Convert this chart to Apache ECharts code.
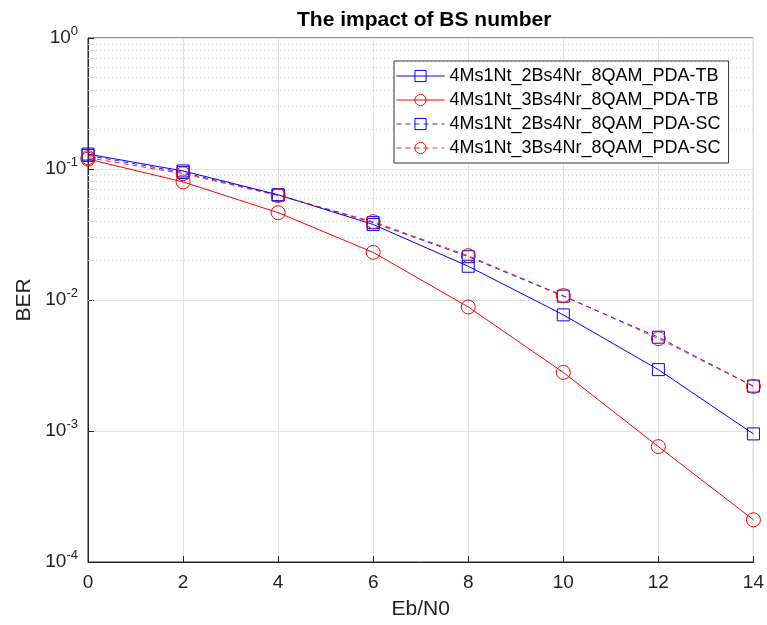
<!DOCTYPE html>
<html>
<head>
<meta charset="utf-8">
<script src="https://cdn.jsdelivr.net/npm/echarts@6/dist/echarts.min.js"></script>
<style>
  html, body { margin: 0; padding: 0; background: #fff; }
  #chart { width: 767px; height: 625px; }
</style>
</head>
<body>
<div id="chart"></div>
<script>
// Eb/N0 points
const ebn0 = [0, 2, 4, 6, 8, 10, 12, 14];
// BER values
const ber2BsTB = [0.130, 0.0966, 0.0636, 0.0377, 0.0181, 0.0077, 0.00294, 0.00095];
const ber3BsTB = [0.119, 0.0797, 0.0464, 0.0231, 0.00885, 0.0028, 0.00076, 0.00021];
const ber2BsSC = [0.127, 0.094, 0.0632, 0.0390, 0.0214, 0.0107, 0.0052, 0.0022];
const ber3BsSC = [0.122, 0.092, 0.0628, 0.0396, 0.0218, 0.0108, 0.00507, 0.00219];
const seriesNames = [
  '4Ms1Nt_2Bs4Nr_8QAM_PDA-TB',
  '4Ms1Nt_3Bs4Nr_8QAM_PDA-TB',
  '4Ms1Nt_2Bs4Nr_8QAM_PDA-SC',
  '4Ms1Nt_3Bs4Nr_8QAM_PDA-SC'
];
// minor grid lines on the log axis (2..9 x each decade)
const minorY = [];
[1e-4, 1e-3, 1e-2, 1e-1].forEach(function (d) {
  for (let k = 2; k <= 9; k++) minorY.push(+(k * d).toPrecision(3));
});

const font = 'Liberation Sans, Arial, Helvetica, sans-serif';

function pairs(ys) {
  return ebn0.map(function (x, i) { return [x, ys[i]]; });
}

function makeSeries(name, ys, color, symbol, dashed) {
  return {
    name: name,
    type: 'line',
    data: pairs(ys),
    symbol: symbol,
    symbolSize: symbol === 'rect' ? 12 : 14,
    lineStyle: { color: color, width: 1, type: dashed ? [5, 4] : 'solid', opacity: dashed ? 0.85 : 1 },
    itemStyle: { color: 'rgba(0,0,0,0)', borderColor: color, borderWidth: 1 },
    emphasis: { disabled: true },
    z: 3
  };
}

const series = [
  makeSeries(seriesNames[0], ber2BsTB, '#0000ff', 'rect', false),
  makeSeries(seriesNames[1], ber3BsTB, '#ff0000', 'circle', false),
  makeSeries(seriesNames[2], ber2BsSC, '#0000ff', 'rect', true),
  makeSeries(seriesNames[3], ber3BsSC, '#ff0000', 'circle', true)
];
// dotted minor grid
series[0].markLine = {
  silent: true,
  symbol: ['none', 'none'],
  label: { show: false },
  lineStyle: { color: '#d4d4d4', type: [1, 3], width: 1 },
  data: minorY.map(function (v) { return { yAxis: v }; }),
  z: 1
};

const chart = echarts.init(document.getElementById('chart'));
chart.setOption({
  animation: false,
  backgroundColor: '#fff',
  title: {
    text: 'The impact of BS number',
    left: 292,
    top: 5,
    textStyle: { fontFamily: font, fontSize: 21, fontWeight: 'bold', color: '#000' }
  },
  legend: {
    left: 394,
    top: 61,
    orient: 'vertical',
    itemWidth: 48,
    itemHeight: 14,
    itemGap: 6,
    padding: [6, 8, 6, 2],
    borderColor: '#333',
    borderWidth: 1,
    backgroundColor: '#fff',
    lineStyle: { width: 1 },
    itemStyle: { borderWidth: 1 },
    textStyle: { fontFamily: font, fontSize: 18, color: '#000' },
    data: seriesNames
  },
  grid: {
    left: 88, right: 11, top: 38, bottom: 60,
    show: true, borderColor: '#262626', borderWidth: 1
  },
  xAxis: {
    type: 'value',
    min: 0, max: 14, interval: 2,
    name: 'Eb/N0',
    nameLocation: 'middle',
    nameGap: 37,
    nameTextStyle: { fontFamily: font, fontSize: 21, color: '#222' },
    axisLine: { lineStyle: { color: '#262626' } },
    axisTick: { inside: true, length: 6, lineStyle: { color: '#262626' } },
    axisLabel: { fontFamily: font, fontSize: 19, color: '#222', margin: 11 },
    splitLine: { lineStyle: { color: '#e3e3e3', width: 1 } }
  },
  yAxis: {
    type: 'log',
    logBase: 10,
    min: 1e-4, max: 1,
    name: 'BER',
    nameLocation: 'middle',
    nameGap: 47,
    nameTextStyle: { fontFamily: font, fontSize: 21, color: '#222' },
    axisLine: { lineStyle: { color: '#262626' } },
    axisTick: { inside: true, length: 6, lineStyle: { color: '#262626' } },
    axisLabel: {
      margin: 10,
      formatter: function (v) {
        const e = Math.round(Math.log10(v));
        return '{b|10}{s|' + e + '}';
      },
      rich: {
        b: { fontFamily: font, fontSize: 19, color: '#222' },
        s: { fontFamily: font, fontSize: 13, color: '#222', padding: [0, 0, 14, 0] }
      }
    },
    splitLine: { lineStyle: { color: '#e3e3e3', width: 1 } }
  },
  series: series
});
</script>
</body>
</html>
